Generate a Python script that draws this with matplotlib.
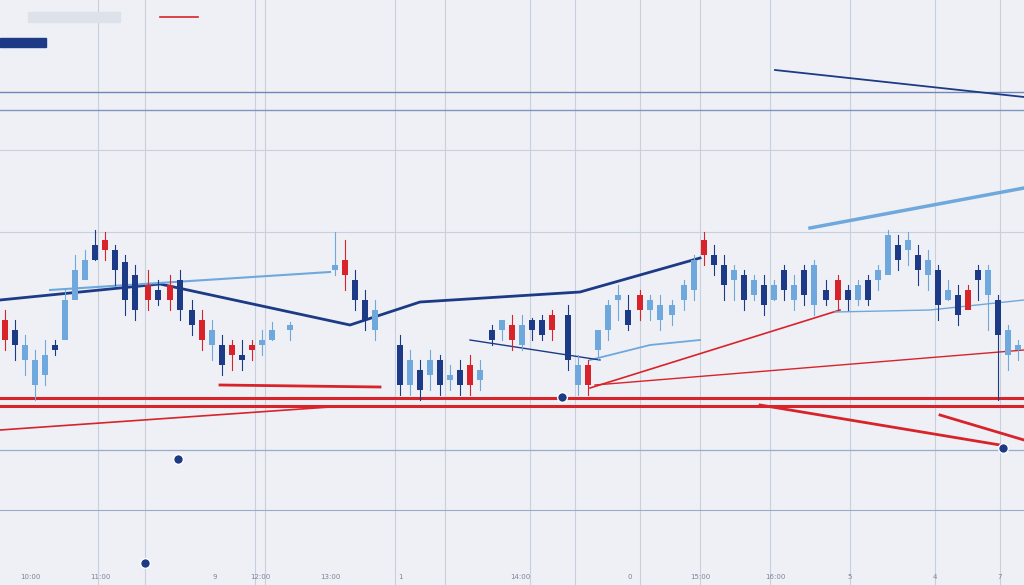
import matplotlib.pyplot as plt
import numpy as np

# candle data (chart units, y axis inverted to follow the picture)
cx = [5, 15, 25, 35, 45, 55, 65, 75, 85, 95, 105, 115, 125, 135, 148, 158, 170, 180, 192, 202, 212, 222, 232, 242, 252, 262, 272,
      290, 335, 345, 355, 365, 375, 400, 410, 420, 430, 440, 450, 460, 470, 480, 492, 502, 512, 522, 532, 542, 552, 568, 578, 588,
      598, 608, 618, 628, 640, 650, 660, 672, 684, 694, 704, 714, 724, 734, 744, 754, 764, 774, 784, 794, 804, 814, 826, 838, 848,
      858, 868, 878, 888, 898, 908, 918, 928, 938, 948, 958, 968, 978, 988, 998, 1008, 1018]
c_open = [320, 330, 345, 360, 375, 350, 340, 300, 280, 260, 240, 250, 262, 275, 300, 290, 300, 280, 310, 320, 330, 345, 355, 360, 350, 345, 340,
          330, 270, 260, 280, 300, 310, 345, 385, 370, 375, 360, 380, 370, 385, 370, 340, 330, 325, 345, 330, 320, 330, 315, 365, 385,
          350, 330, 300, 310, 295, 310, 305, 315, 300, 290, 240, 255, 265, 280, 275, 295, 285, 300, 270, 285, 295, 265, 300, 280, 300,
          285, 300, 280, 275, 245, 240, 255, 260, 270, 300, 295, 310, 280, 270, 300, 330, 350]
c_close = [340, 345, 360, 385, 355, 345, 300, 270, 260, 245, 250, 270, 300, 310, 285, 300, 285, 310, 325, 340, 345, 365, 345, 355, 345, 340, 330,
           325, 265, 275, 300, 320, 330, 385, 360, 390, 360, 385, 375, 385, 365, 380, 330, 320, 340, 325, 320, 335, 315, 360, 385, 365,
           330, 305, 295, 325, 310, 300, 320, 305, 285, 260, 255, 265, 285, 270, 300, 280, 305, 285, 290, 300, 270, 305, 290, 300, 290,
           300, 280, 270, 235, 260, 250, 270, 275, 305, 290, 315, 290, 270, 295, 335, 355, 345]
c_high = [310, 320, 335, 350, 340, 340, 290, 255, 250, 230, 232, 245, 255, 265, 270, 280, 275, 270, 300, 310, 320, 335, 340, 340, 340, 330, 322,
          322, 232, 240, 270, 290, 300, 335, 350, 360, 350, 355, 365, 360, 355, 360, 325, 320, 315, 315, 318, 315, 310, 305, 355, 360,
          330, 300, 285, 295, 290, 295, 295, 300, 280, 255, 232, 245, 255, 265, 270, 275, 275, 280, 265, 275, 265, 260, 280, 275, 285,
          280, 275, 265, 230, 235, 232, 245, 250, 265, 280, 285, 285, 265, 265, 295, 325, 340]
c_low = [350, 360, 375, 400, 385, 355, 310, 285, 270, 260, 260, 285, 315, 320, 310, 305, 310, 320, 335, 350, 360, 375, 370, 370, 360, 355, 340,
         340, 275, 290, 310, 330, 340, 395, 395, 400, 390, 395, 390, 395, 395, 390, 345, 340, 350, 350, 340, 340, 340, 370, 395, 395,
         360, 340, 320, 330, 320, 320, 330, 325, 310, 300, 265, 275, 300, 300, 310, 300, 315, 300, 300, 310, 305, 315, 305, 310, 310,
         305, 305, 290, 255, 270, 265, 285, 290, 320, 300, 325, 300, 300, 330, 400, 370, 360]
c_kind = ['r', 'n', 'l', 'l', 'l', 'n', 'l', 'l', 'l', 'n', 'r', 'n', 'n', 'n', 'r', 'n', 'r', 'n', 'n', 'r', 'l', 'n', 'r', 'n', 'r', 'l', 'l',
          'l', 'l', 'r', 'n', 'n', 'l', 'n', 'l', 'n', 'l', 'n', 'l', 'n', 'r', 'l', 'n', 'l', 'r', 'l', 'n', 'n', 'r', 'n', 'l', 'r',
          'l', 'l', 'l', 'n', 'r', 'l', 'l', 'l', 'l', 'l', 'r', 'n', 'n', 'l', 'n', 'l', 'n', 'l', 'n', 'l', 'n', 'l', 'n', 'r', 'n',
          'l', 'n', 'l', 'l', 'n', 'l', 'n', 'l', 'n', 'l', 'n', 'r', 'n', 'l', 'n', 'l', 'l']

# overlay lines: (x list, y list, colour key, width)
trend_lines = [
    ([0, 160, 350, 420, 580, 700], [300, 284, 325, 302, 292, 258], 'n', 2.0),
    ([50, 330], [290, 272], 'l', 1.5),
    ([810, 1024], [228, 188], 'l', 2.5),
    ([775, 1024], [70, 97], 'n', 1.3),
    ([590, 650, 700], [360, 345, 340], 'l', 1.3),
    ([220, 380], [385, 387], 'r', 2.0),
    ([0, 330], [430, 407], 'r', 1.2),
    ([590, 840], [388, 310], 'r', 1.2),
    ([595, 1024], [385, 350], 'r', 1.0),
    ([760, 1000], [405, 445], 'r', 2.0),
    ([940, 1024], [415, 440], 'r', 2.0),
    ([470, 600], [340, 360], 'n', 1.0),
    ([835, 930, 1024], [312, 310, 300], 'l', 1.0),
]
h_lines = [(92, '#6f86b8', 1.0), (110, '#7f95c2', 1.0), (150, '#c8d0e0', 0.8), (232, '#c8d0e0', 0.8),
           (398, '#d8232a', 2.2), (406, '#d8232a', 2.2), (450, '#9aaccc', 0.9), (510, '#9aaccc', 0.8)]
v_lines = [98, 145, 255, 265, 395, 445, 530, 575, 640, 700, 770, 850, 935, 1000]
tick_x = [30, 100, 215, 260, 330, 400, 520, 630, 700, 775, 850, 935, 1000]
tick_lbl = ['10:00', '11:00', '9', '12:00', '13:00', '1', '14:00', '0', '15:00', '16:00', '5', '4', '7']

colors = {'r': '#d8232a', 'n': '#1c3a85', 'l': '#6fa8dc'}

fig = plt.figure(figsize=(10.24, 5.85), dpi=100)
fig.patch.set_facecolor('#eef0f5')
ax = fig.add_axes([0, 0, 1, 1])
ax.set_facecolor('#eef0f5')
ax.set_xlim(0, 1024)
ax.set_ylim(585, 0)
ax.axis('off')

for x in v_lines:
    ax.axvline(x, color='#c9cfdc', lw=0.8, zorder=0)
for y, c, w in h_lines:
    ax.axhline(y, color=c, lw=w, zorder=1)

for xs, ys, k, w in trend_lines:
    ax.plot(xs, ys, color=colors[k], lw=w, zorder=2)

for x, o, c, h, l, k in zip(cx, c_open, c_close, c_high, c_low, c_kind):
    col = colors[k]
    ax.plot([x, x], [h, l], color=col, lw=0.8, zorder=3)
    ax.bar(x, abs(c - o), bottom=min(o, c), width=6, color=col, zorder=4)

for x, y in [(178, 459), (562, 397), (1003, 448), (145, 563)]:
    ax.plot(x, y, 'o', ms=7, mfc='#1c3a85', mec='white', zorder=5)

ax.add_patch(plt.Rectangle((0, 38), 46, 9, color='#1c3a85', zorder=5))
ax.plot([160, 198], [17, 17], color='#d8232a', lw=1.2)
ax.add_patch(plt.Rectangle((28, 12), 92, 10, color='#dde2ea', zorder=1))

for x, t in zip(tick_x, tick_lbl):
    ax.text(x, 577, t, fontsize=5, color='#7a849a', ha='center', va='center')

fig.savefig('out.png', dpi=100, facecolor=fig.get_facecolor())
